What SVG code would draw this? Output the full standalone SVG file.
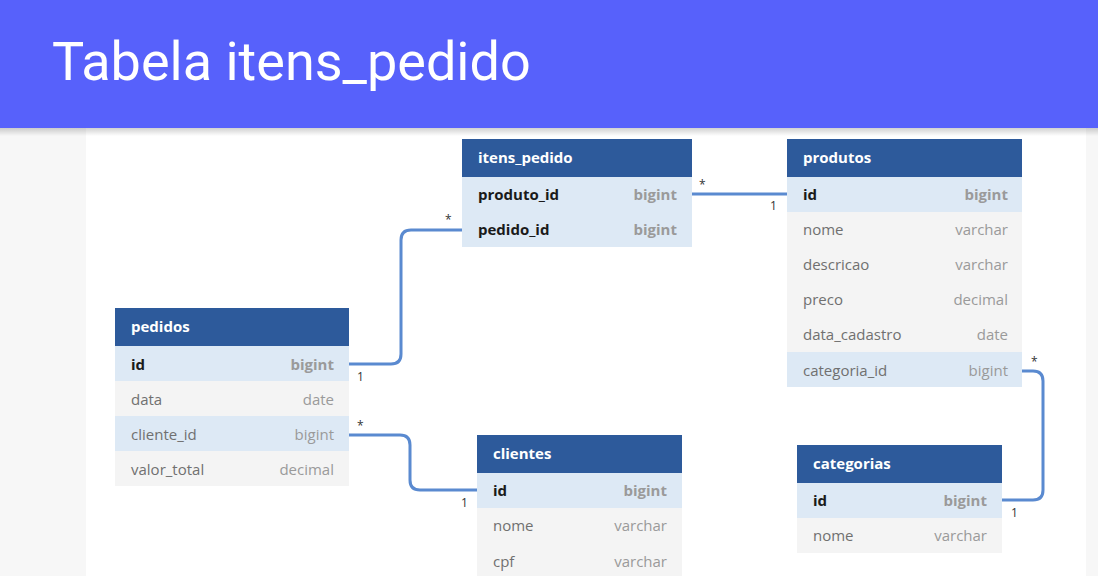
<svg xmlns="http://www.w3.org/2000/svg" width="1098" height="576" viewBox="0 0 1098 576">
<defs>
<linearGradient id="sh" x1="0" y1="0" x2="0" y2="1"><stop offset="0" stop-color="#000" stop-opacity="0.18"/><stop offset="1" stop-color="#000" stop-opacity="0"/></linearGradient>
<style>
.hd{fill:#2D5A9B}
.hdt{font-family:"Open Sans",sans-serif;font-weight:700;font-size:15px;fill:#fff}
.rb{fill:#DDE9F5}
.rg{fill:#F4F4F4}
.k{font-family:"Open Sans",sans-serif;font-weight:700;font-size:15px;fill:#1a1a1a}
.kt{font-family:"Open Sans",sans-serif;font-weight:700;font-size:15px;fill:#9a9a9a;text-anchor:end}
.f{font-family:"Open Sans",sans-serif;font-size:15px;fill:#707070}
.ft{font-family:"Open Sans",sans-serif;font-size:15px;fill:#9a9a9a;text-anchor:end}
.c{fill:none;stroke:#5A8AD0;stroke-width:3}
.lb{font-family:"Open Sans",sans-serif;font-size:12px;fill:#333}
</style>
</defs>
<rect width="1098" height="576" fill="#F7F7F7"/>
<rect x="86" y="128" width="1000" height="448" fill="#FFFFFF"/>
<rect x="0" y="128" width="1098" height="8" fill="url(#sh)"/>
<rect x="0" y="0" width="1098" height="128" fill="#5761FB"/>
<text x="52" y="80" font-family="Roboto,sans-serif" font-size="54" fill="#FFFFFF">Tabela itens_pedido</text>

<g id="connectors">
<path class="c" d="M349,364 H391 Q401,364 401,354 V240 Q401,230 411,230 H462"/>
<path class="c" d="M692,194 H787"/>
<path class="c" d="M349,435 H400 Q410,435 410,445 V480 Q410,490 420,490 H477"/>
<path class="c" d="M1022,371 H1033 Q1043,371 1043,381 V490 Q1043,500 1033,500 H1002"/>
<text class="lb" x="357" y="381">1</text>
<text class="lb" x="445" y="224">*</text>
<text class="lb" x="699" y="189">*</text>
<text class="lb" x="770" y="210">1</text>
<text class="lb" x="357" y="430">*</text>
<text class="lb" x="461" y="507">1</text>
<text class="lb" x="1031" y="366">*</text>
<text class="lb" x="1011" y="517">1</text>
</g>

<g id="itens_pedido">
<rect class="hd" x="462" y="139" width="230" height="38"/>
<text class="hdt" x="478" y="163">itens_pedido</text>
<rect class="rb" x="462" y="177" width="230" height="70"/>
<text class="k" x="478" y="200">produto_id</text><text class="kt" x="677" y="200">bigint</text>
<text class="k" x="478" y="235">pedido_id</text><text class="kt" x="677" y="235">bigint</text>
</g>

<g id="produtos">
<rect class="hd" x="787" y="139" width="235" height="38"/>
<text class="hdt" x="803" y="163">produtos</text>
<rect class="rb" x="787" y="177" width="235" height="35"/>
<rect class="rg" x="787" y="212" width="235" height="140"/>
<rect class="rb" x="787" y="352" width="235" height="35"/>
<text class="k" x="803" y="200">id</text><text class="kt" x="1008" y="200">bigint</text>
<text class="f" x="803" y="235">nome</text><text class="ft" x="1008" y="235">varchar</text>
<text class="f" x="803" y="270">descricao</text><text class="ft" x="1008" y="270">varchar</text>
<text class="f" x="803" y="305">preco</text><text class="ft" x="1008" y="305">decimal</text>
<text class="f" x="803" y="340">data_cadastro</text><text class="ft" x="1008" y="340">date</text>
<text class="f" x="803" y="376">categoria_id</text><text class="ft" x="1008" y="376">bigint</text>
</g>

<g id="pedidos">
<rect class="hd" x="115" y="308" width="234" height="38"/>
<text class="hdt" x="131" y="332">pedidos</text>
<rect class="rb" x="115" y="346" width="234" height="35"/>
<rect class="rg" x="115" y="381" width="234" height="35"/>
<rect class="rb" x="115" y="416" width="234" height="35"/>
<rect class="rg" x="115" y="451" width="234" height="35"/>
<text class="k" x="131" y="370">id</text><text class="kt" x="334" y="370">bigint</text>
<text class="f" x="131" y="405">data</text><text class="ft" x="334" y="405">date</text>
<text class="f" x="131" y="440">cliente_id</text><text class="ft" x="334" y="440">bigint</text>
<text class="f" x="131" y="475">valor_total</text><text class="ft" x="334" y="475">decimal</text>
</g>

<g id="clientes">
<rect class="hd" x="477" y="435" width="205" height="38"/>
<text class="hdt" x="493" y="459">clientes</text>
<rect class="rb" x="477" y="473" width="205" height="35"/>
<rect class="rg" x="477" y="508" width="205" height="68"/>
<text class="k" x="493" y="496">id</text><text class="kt" x="667" y="496">bigint</text>
<text class="f" x="493" y="531">nome</text><text class="ft" x="667" y="531">varchar</text>
<text class="f" x="493" y="567">cpf</text><text class="ft" x="667" y="567">varchar</text>
</g>

<g id="categorias">
<rect class="hd" x="797" y="445" width="205" height="38"/>
<text class="hdt" x="813" y="469">categorias</text>
<rect class="rb" x="797" y="483" width="205" height="35"/>
<rect class="rg" x="797" y="518" width="205" height="35"/>
<text class="k" x="813" y="506">id</text><text class="kt" x="987" y="506">bigint</text>
<text class="f" x="813" y="541">nome</text><text class="ft" x="987" y="541">varchar</text>
</g>
</svg>
